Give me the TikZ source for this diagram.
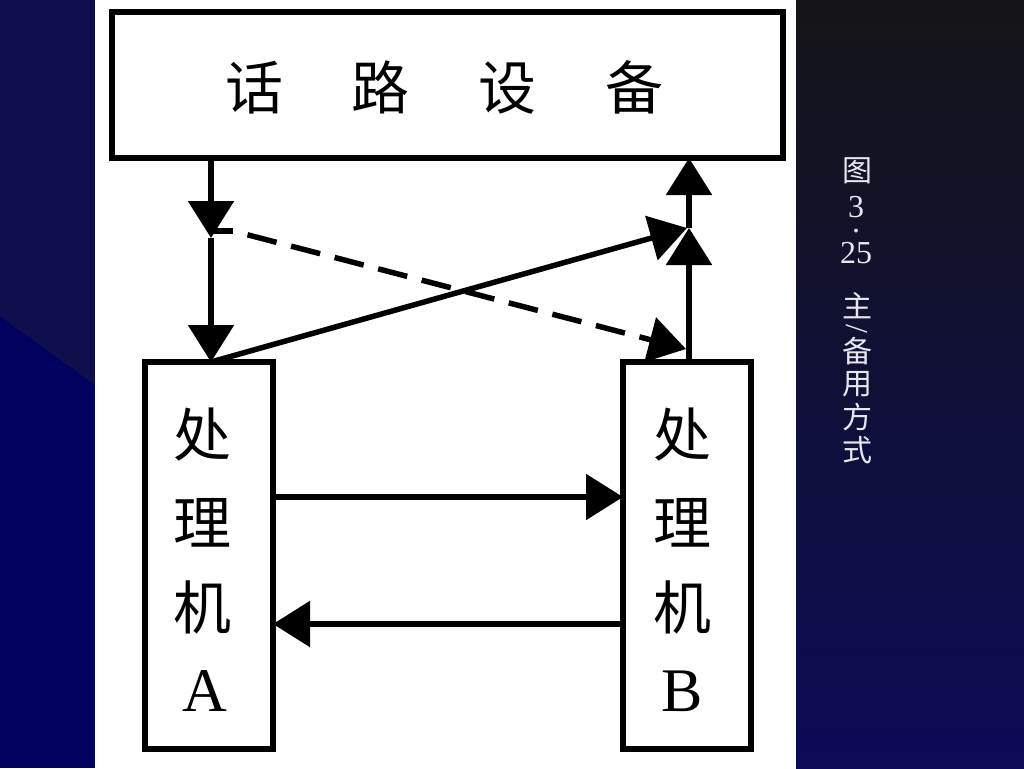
\documentclass[tikz,border=0pt]{standalone}
\usepackage{fontspec}
\setmainfont{Liberation Serif}
\newfontfamily\cjk{Noto Sans CJK SC}
\usetikzlibrary{arrows.meta}
\definecolor{navyA}{HTML}{01015F}
\definecolor{navyB}{HTML}{0F0F4E}
\definecolor{bgtop}{HTML}{151517}
\definecolor{bgbot}{HTML}{0B0B57}
\definecolor{vtext}{HTML}{E6E6EE}
\tikzset{
  boxnode/.style={draw=black, line width=5.5pt, fill=white, inner sep=0pt, outer sep=0pt},
  arr/.style={line width=5.5pt, -{Triangle[length=37pt,width=45pt]}},
  dasharr/.style={arr, dash pattern=on 30pt off 15pt, dash phase=30pt},
  bigcjk/.style={font=\cjk\fontsize{58}{60}\selectfont, inner sep=0pt},
  biglat/.style={font=\fontsize{62}{64}\selectfont, inner sep=0pt},
  vcjk/.style={font=\cjk\fontsize{30}{32}\selectfont, text=vtext, inner sep=0pt},
  vlat/.style={font=\fontsize{32}{34}\selectfont, text=vtext, inner sep=0pt}
}
\begin{document}
\begin{tikzpicture}[x=1pt,y=-1pt]
\useasboundingbox (0,0) rectangle (1024,768);
% background
\fill[navyA] (0,0) rectangle (1024,768);
\fill[navyB] (0,0) -- (95,0) -- (95,385) -- (0,316) -- cycle;
\shade[top color=bgtop, bottom color=bgbot] (796,0) rectangle (1024,768);
\fill[white] (95,0) rectangle (796,768);

% boxes
\node[boxnode, minimum width=671pt, minimum height=146pt] (top) at (447.5,85) {};
\node[boxnode, minimum width=128pt, minimum height=387pt] (pa) at (209,555.5) {};
\node[boxnode, minimum width=128pt, minimum height=387pt] (pb) at (687,555.5) {};

% texts
\node[bigcjk] (toptext) at (444.5,87) {话\hspace{69pt}路\hspace{69pt}设\hspace{69pt}备};
\node[bigcjk] (a1) at (202,435) {处};
\node[bigcjk] (a2) at (202,523) {理};
\node[bigcjk] (a3) at (202,607) {机};
\node[biglat] (a4) at (205,691) {A};
\node[bigcjk] (b1) at (682,435) {处};
\node[bigcjk] (b2) at (682,523) {理};
\node[bigcjk] (b3) at (682,607) {机};
\node[biglat] (b4) at (682,691) {B};

% coordinates
\coordinate (lmid) at (211,238);
\coordinate (rmid) at (689,228);
\coordinate (split) at (211,231);
\coordinate (dstart) at (233,231);
\coordinate (dend) at (686,349);
\coordinate (h1) at (0,497);
\coordinate (h2) at (0,624);

% connectors
\draw[arr] (top.south -| lmid) -- (lmid);
\draw[arr] (lmid) -- (lmid |- pa.north);
\draw[arr] (rmid |- pb.north) -- (rmid);
\draw[arr] (rmid) -- (rmid |- top.south);
\draw[arr] (lmid |- pa.north) -- ([xshift=-2pt]rmid);
\draw[line width=5.5pt] (split) -- (dstart);
\draw[dasharr] (dstart) -- (dend);
\draw[arr] (h1 -| pa.east) -- (h1 -| pb.west);
\draw[arr] (h2 -| pb.west) -- (h2 -| pa.east);

% vertical caption
\node[vcjk] (v1) at (857,171) {图};
\node[vlat, align=center, anchor=north] (v2) at (856,196) {3\\[-19pt].\\[-3pt]25};
\node[vcjk] (v5) at (857,306) {主};
\node[vlat, rotate=-90] (v6) at (857,329) {/};
\node[vcjk] (v7) at (857,351) {备};
\node[vcjk] (v8) at (857,384) {用};
\node[vcjk] (v9) at (857,417) {方};
\node[vcjk] (v10) at (857,450) {式};
\end{tikzpicture}
\end{document}
